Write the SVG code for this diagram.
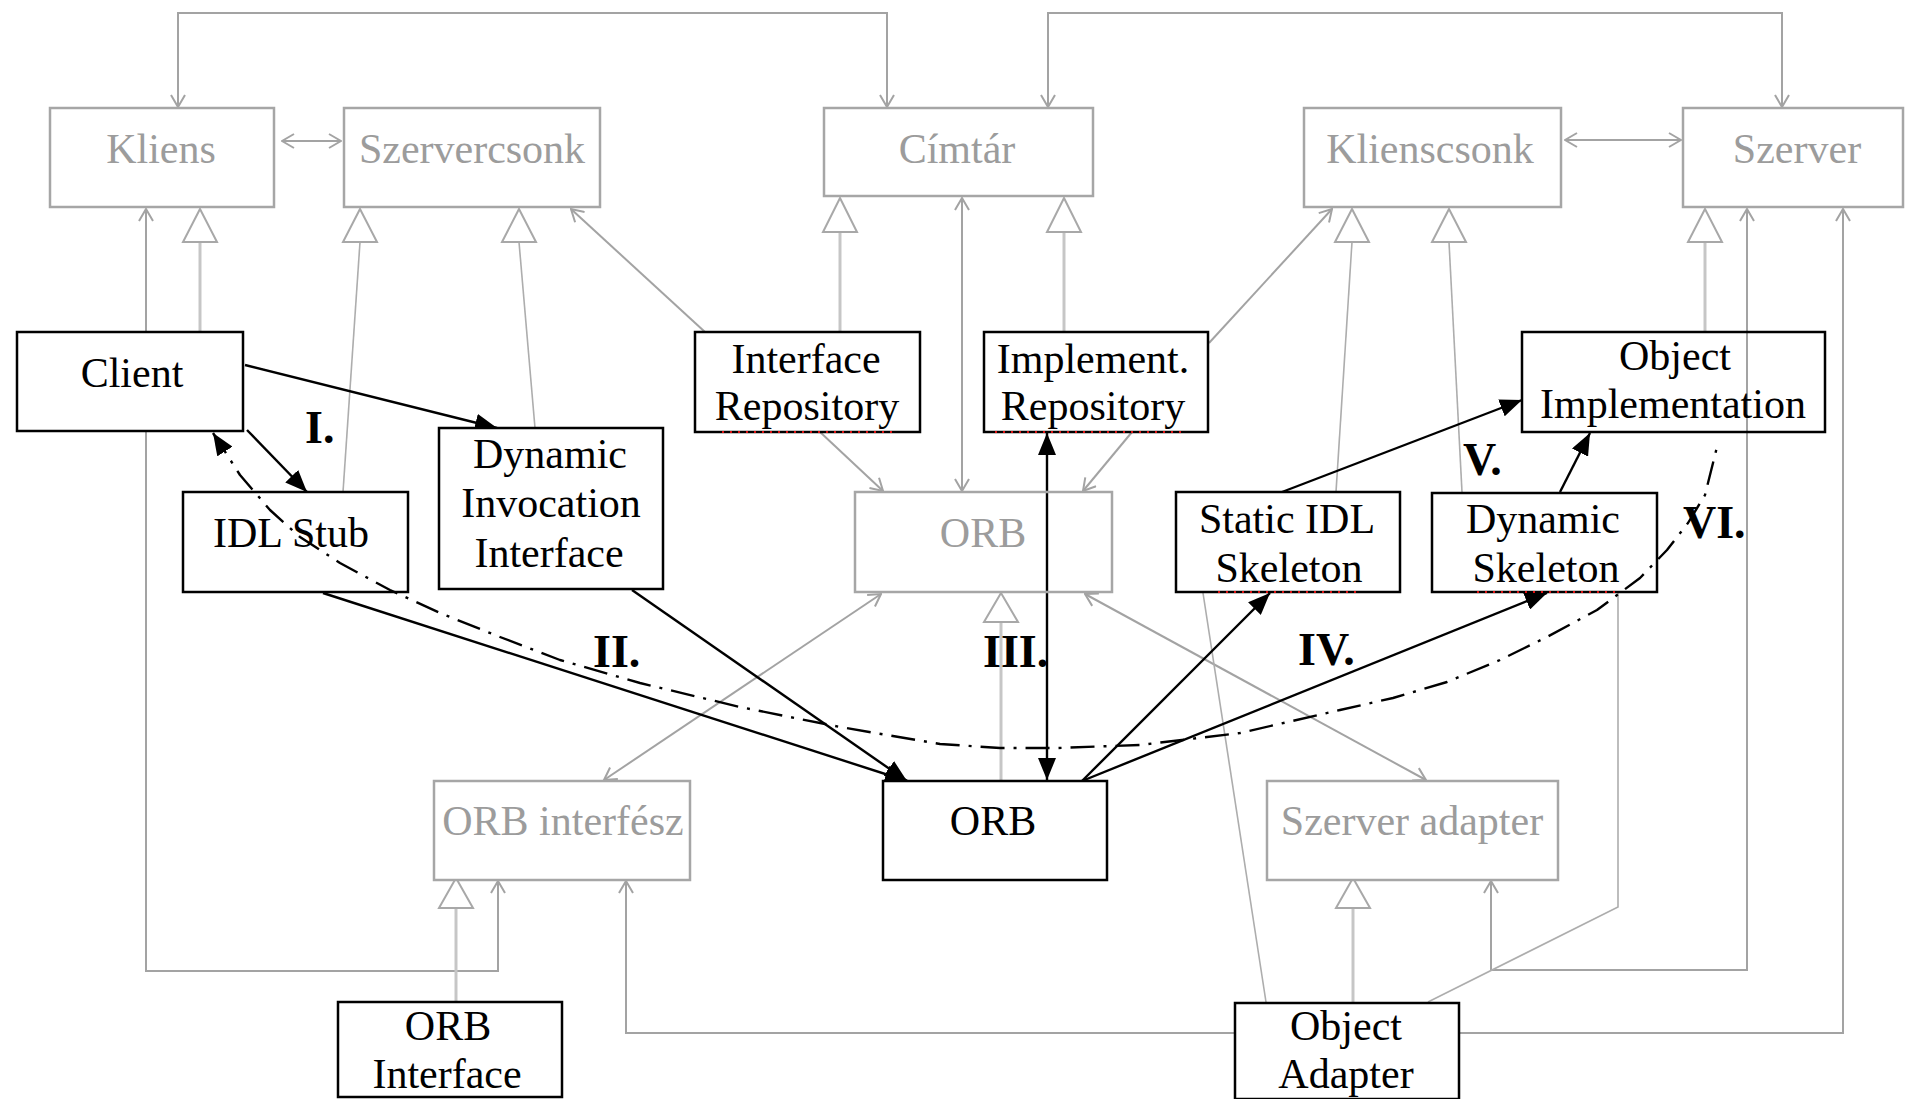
<svg xmlns="http://www.w3.org/2000/svg" width="1905" height="1099" viewBox="0 0 1905 1099">
  <style>
    text { font-family: "Liberation Serif", "Times New Roman", serif; font-size: 42px; text-anchor: middle; }
    .abs rect { fill: #fff; stroke: #a6a6a6; stroke-width: 2.5; }
    .abs text { fill: #9c9c9c; }
    .con rect { fill: #fff; stroke: #000; stroke-width: 2.5; }
    .con text { fill: #000; }
    .clear rect { fill: none; }
    .assoc { fill: none; stroke: #a3a3a3; stroke-width: 2; }
    .stem { fill: none; stroke: #c6c6c6; stroke-width: 3; }
    .stem-thin { fill: none; stroke: #adadad; stroke-width: 1.6; }
    .tri { fill: #fff; stroke: #a8a8a8; stroke-width: 2; }
    .flow { fill: none; stroke: #000; stroke-width: 2.4; }
    .path-dd { fill: none; stroke: #000; stroke-width: 2.4; stroke-dasharray: 24 9 3 9; stroke-linejoin: round; }
    .spell { fill: none; stroke: #e01010; stroke-width: 2; stroke-dasharray: 2 6; }
    .step { font-weight: bold; font-size: 46px; text-anchor: start; fill: #000; }
  </style>
  <defs>
    <marker id="open" viewBox="0 0 14 16" refX="13" refY="8" markerWidth="14" markerHeight="16" markerUnits="userSpaceOnUse" orient="auto-start-reverse">
      <path d="M1,1 L13,8 L1,15" fill="none" stroke="#a3a3a3" stroke-width="2"/>
    </marker>
    <marker id="solid" viewBox="0 0 22 18" refX="22" refY="9" markerWidth="22" markerHeight="18" markerUnits="userSpaceOnUse" orient="auto-start-reverse">
      <path d="M0,0 L22,9 L0,18 Z" fill="#000"/>
    </marker>
  </defs>

  <rect width="1905" height="1099" fill="#fff"/>

  <!-- connectors -->
  <g id="connectors">
    <!-- associations between the abstract roles -->
    <line class="assoc" x1="282" y1="141" x2="341" y2="141" marker-start="url(#open)" marker-end="url(#open)"/>
    <line class="assoc" x1="1565" y1="140" x2="1681" y2="140" marker-start="url(#open)" marker-end="url(#open)"/>
    <path class="assoc" d="M178,107 V13 H887 V107" marker-start="url(#open)" marker-end="url(#open)"/>
    <path class="assoc" d="M1048,107 V13 H1782 V107" marker-start="url(#open)" marker-end="url(#open)"/>
    <path class="assoc" d="M146,209 V971 H498 V881" marker-start="url(#open)" marker-end="url(#open)"/>
    <line class="assoc" x1="962" y1="198" x2="962" y2="491" marker-start="url(#open)" marker-end="url(#open)"/>
    <line class="assoc" x1="705" y1="332" x2="571" y2="209" marker-end="url(#open)"/>
    <line class="assoc" x1="1209" y1="343" x2="1332" y2="209" marker-end="url(#open)"/>
    <line class="assoc" x1="820" y1="432" x2="883" y2="491" marker-end="url(#open)"/>
    <line class="assoc" x1="1132" y1="432" x2="1083" y2="491" marker-end="url(#open)"/>
    <line class="assoc" x1="881" y1="594" x2="604" y2="780" marker-start="url(#open)" marker-end="url(#open)"/>
    <line class="assoc" x1="1085" y1="594" x2="1426" y2="780" marker-start="url(#open)" marker-end="url(#open)"/>
    <path class="assoc" d="M1747,209 V970 H1491 V881" marker-start="url(#open)" marker-end="url(#open)"/>
    <path class="assoc" d="M1459,1033 H1843 V209" marker-end="url(#open)"/>
    <path class="assoc" d="M1235,1033 H626 V881" marker-end="url(#open)"/>
    <line class="stem-thin" x1="1203" y1="593" x2="1266" y2="1002"/>
    <path class="stem-thin" d="M1618,593 V907 L1428,1002"/>

    <!-- generalizations -->
    <line class="stem" x1="200" y1="332" x2="200" y2="242"/>
    <polygon class="tri" points="200,209 217,242 183,242"/>
    <line class="stem-thin" x1="343" y1="492" x2="360" y2="242"/>
    <polygon class="tri" points="360,209 377,242 343,242"/>
    <line class="stem-thin" x1="535" y1="428" x2="519" y2="242"/>
    <polygon class="tri" points="519,209 536,242 502,242"/>
    <line class="stem" x1="840" y1="332" x2="840" y2="232"/>
    <polygon class="tri" points="840,198 857,232 823,232"/>
    <line class="stem" x1="1064" y1="332" x2="1064" y2="232"/>
    <polygon class="tri" points="1064,198 1081,232 1047,232"/>
    <line class="stem-thin" x1="1336" y1="492" x2="1352" y2="242"/>
    <polygon class="tri" points="1352,209 1369,242 1335,242"/>
    <line class="stem-thin" x1="1462" y1="492" x2="1449" y2="242"/>
    <polygon class="tri" points="1449,209 1466,242 1432,242"/>
    <line class="stem" x1="1705" y1="332" x2="1705" y2="242"/>
    <polygon class="tri" points="1705,209 1722,242 1688,242"/>
    <line class="stem" x1="1001" y1="781" x2="1001" y2="622"/>
    <polygon class="tri" points="1001,593 1018,622 984,622"/>
    <line class="stem" x1="456" y1="1002" x2="456" y2="908"/>
    <polygon class="tri" points="456,878 473,908 439,908"/>
    <line class="stem" x1="1353" y1="1003" x2="1353" y2="908"/>
    <polygon class="tri" points="1353,878 1370,908 1336,908"/>

    <!-- invocation flow -->
    <line class="flow" x1="245" y1="365" x2="497" y2="428" marker-end="url(#solid)"/>
    <line class="flow" x1="247" y1="430" x2="307" y2="492" marker-end="url(#solid)"/>
    <line class="flow" x1="323" y1="593" x2="907" y2="781" marker-end="url(#solid)"/>
    <line class="flow" x1="632" y1="590" x2="907" y2="781" marker-end="url(#solid)"/>
    <line class="flow" x1="1047" y1="433" x2="1047" y2="780" marker-start="url(#solid)" marker-end="url(#solid)"/>
    <line class="flow" x1="1082" y1="781" x2="1270" y2="593" marker-end="url(#solid)"/>
    <line class="flow" x1="1082" y1="781" x2="1547" y2="593" marker-end="url(#solid)"/>
    <line class="flow" x1="1282" y1="492" x2="1522" y2="400" marker-end="url(#solid)"/>
    <line class="flow" x1="1560" y1="492" x2="1590" y2="433" marker-end="url(#solid)"/>
  </g>

  <!-- abstract roles -->
  <g id="kliens" class="abs"><rect x="50" y="108" width="224" height="99"/><text x="161" y="163">Kliens</text></g>
  <g id="szervercsonk" class="abs"><rect x="344" y="108" width="256" height="99"/><text x="472" y="163">Szervercsonk</text></g>
  <g id="cimtar" class="abs"><rect x="824" y="108" width="269" height="88"/><text x="957" y="163">Címtár</text></g>
  <g id="klienscsonk" class="abs"><rect x="1304" y="108" width="257" height="99"/><text x="1430" y="163">Klienscsonk</text></g>
  <g id="szerver" class="abs"><rect x="1683" y="108" width="220" height="99"/><text x="1797" y="163">Szerver</text></g>
  <g id="orb-abs" class="abs clear"><rect x="855" y="492" width="257" height="100"/><text x="983" y="547">ORB</text></g>
  <g id="orb-interfesz" class="abs"><rect x="434" y="781" width="256" height="99"/><text x="563" y="835">ORB interfész</text></g>
  <g id="szerver-adapter" class="abs"><rect x="1267" y="781" width="291" height="99"/><text x="1412" y="835">Szerver adapter</text></g>

  <!-- CORBA components -->
  <g id="client" class="con"><rect x="17" y="332" width="226" height="99"/><text x="132" y="387">Client</text></g>
  <g id="idl-stub" class="con clear"><rect x="183" y="492" width="225" height="100"/><text x="291" y="547">IDL Stub</text></g>
  <g id="dii" class="con"><rect x="439" y="428" width="224" height="161"/>
    <text x="550" y="468">Dynamic</text><text x="551" y="517">Invocation</text><text x="549" y="567">Interface</text></g>
  <g id="interface-repository" class="con"><rect x="695" y="332" width="225" height="100"/>
    <text x="806" y="373">Interface</text><text x="807" y="420">Repository</text>
    <line class="spell" x1="722" y1="432" x2="893" y2="432"/></g>
  <g id="implement-repository" class="con"><rect x="984" y="332" width="224" height="100"/>
    <text x="1093" y="373">Implement.</text><text x="1093" y="420">Repository</text>
    <line class="spell" x1="995" y1="432" x2="1183" y2="432"/></g>
  <g id="static-skeleton" class="con"><rect x="1176" y="492" width="224" height="100"/>
    <text x="1287" y="533">Static IDL</text><text x="1289" y="582">Skeleton</text>
    <line class="spell" x1="1218" y1="592" x2="1362" y2="592"/></g>
  <g id="dynamic-skeleton" class="con"><rect x="1432" y="493" width="225" height="99"/>
    <text x="1543" y="533">Dynamic</text><text x="1546" y="582">Skeleton</text>
    <line class="spell" x1="1477" y1="592" x2="1618" y2="592"/></g>
  <g id="object-implementation" class="con clear"><rect x="1522" y="332" width="303" height="100"/>
    <text x="1675" y="370">Object</text><text x="1673" y="418">Implementation</text></g>
  <g id="orb" class="con"><rect x="883" y="781" width="224" height="99"/><text x="993" y="835">ORB</text></g>
  <g id="orb-interface" class="con"><rect x="338" y="1002" width="224" height="95"/>
    <text x="448" y="1040">ORB</text><text x="447" y="1088">Interface</text></g>
  <g id="object-adapter" class="con"><rect x="1235" y="1003" width="224" height="96"/>
    <text x="1346" y="1040">Object</text><text x="1346" y="1088">Adapter</text></g>

  <!-- request path through the ORB -->
  <g id="request-path">
    <polyline class="path-dd" marker-start="url(#solid)" points="213,433 240,475 270,510 300,537 340,563 390,590 440,613 500,637 560,660 640,683 740,707 840,727 940,744 1000,748 1057,748 1140,745 1240,733 1340,710 1393,698 1447,682 1500,660 1547,637 1597,610 1640,578 1667,550 1688,523 1705,495 1713,463 1718,443"/>
  </g>

  <!-- step labels -->
  <g id="steps">
    <text class="step" x="305" y="443">I.</text>
    <text class="step" x="593" y="667">II.</text>
    <text class="step" x="983" y="667">III.</text>
    <text class="step" x="1298" y="665">IV.</text>
    <text class="step" x="1463" y="475">V.</text>
    <text class="step" x="1683" y="538">VI.</text>
  </g>
</svg>
